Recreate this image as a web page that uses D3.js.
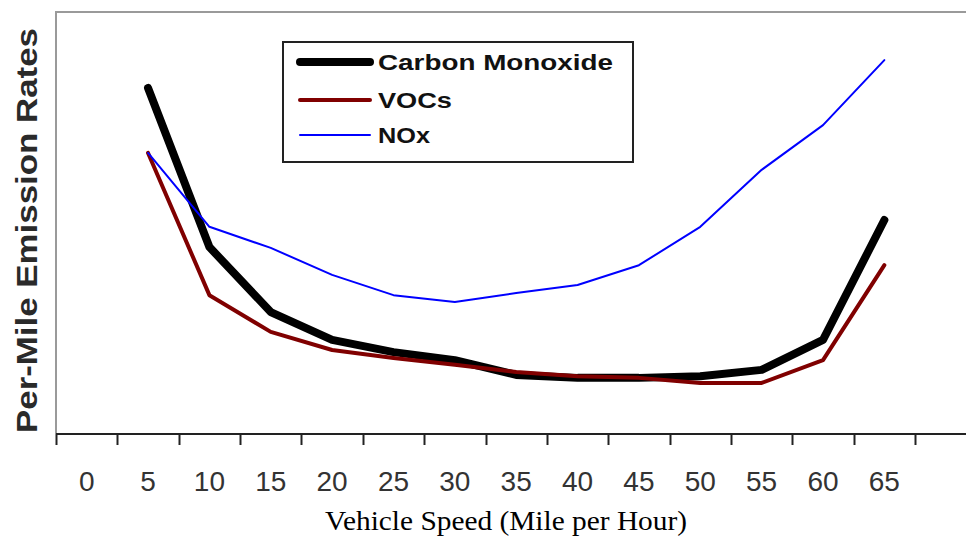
<!DOCTYPE html>
<html>
<head>
<meta charset="utf-8">
<script src="https://cdn.jsdelivr.net/npm/d3@7"></script>
<style>
    body { margin: 0; background: #fff; }
    svg { display: block; }
</style>
</head>
<body>
<svg></svg>
<script>

// speed categories (last slot is an empty band, cut off at the edge)
const speedLabels = ["0", "5", "10", "15", "20", "25", "30", "35", "40", "45", "50", "55", "60", "65", ""]
const pointSpeeds = ["5", "10", "15", "20", "25", "30", "35", "40", "45", "50", "55", "60", "65"]

// relative emission rates (no units on the original axis)
const carbonMonoxide = [82.0, 44.3, 28.9, 22.3, 19.4, 17.5, 14.0, 13.3, 13.3, 13.7, 15.2, 22.3, 50.7]
const vocs = [66.6, 32.9, 24.2, 19.9, 18.0, 16.4, 14.7, 13.7, 13.3, 12.1, 12.1, 17.5, 40.0]
const nox = [66.6, 49.1, 44.1, 37.7, 32.9, 31.3, 33.4, 35.3, 40.0, 49.1, 62.6, 73.2, 88.6]

const seriesNames = ["Carbon Monoxide", "VOCs", "NOx"]

const series = [
    { name: seriesNames[0], values: carbonMonoxide, color: "#000000", width: 8 },
    { name: seriesNames[1], values: vocs, color: "#800000", width: 4 },
    { name: seriesNames[2], values: nox, color: "#0000ff", width: 2 }
]

const width = 966
const height = 536

const plotLeft = 56
const plotTop = 12
const plotBottom = 434
const step = 61.36

const svg = d3.select("svg")
    .attr("width", width)
    .attr("height", height)

svg.append("rect")
    .attr("width", width)
    .attr("height", height)
    .attr("fill", "#fff")

const x = d3.scaleBand()
    .domain(speedLabels)
    .range([plotLeft, plotLeft + step * speedLabels.length])

const y = d3.scaleLinear()
    .domain([0, 100])
    .range([plotBottom, plotTop])

// grey frame, top and left
svg.append("path")
    .attr("d", `M${plotLeft},${plotBottom} V${plotTop} H${width}`)
    .attr("fill", "none")
    .attr("stroke", "#9a9a9a")
    .attr("stroke-width", 2)

// x axis: ticks at band edges, labels in the middle
const xAxis = svg.append("g")

xAxis.append("line")
    .attr("x1", plotLeft)
    .attr("x2", width)
    .attr("y1", plotBottom)
    .attr("y2", plotBottom)
    .attr("stroke", "#222")
    .attr("stroke-width", 2)

xAxis.selectAll("line.tick")
    .data(speedLabels)
    .enter()
    .append("line")
    .attr("class", "tick")
    .attr("x1", d => Math.round(x(d)) + 0.5)
    .attr("x2", d => Math.round(x(d)) + 0.5)
    .attr("y1", plotBottom)
    .attr("y2", plotBottom + 11)
    .attr("stroke", "#222")
    .attr("stroke-width", 2)

xAxis.selectAll("text")
    .data(speedLabels)
    .enter()
    .append("text")
    .attr("x", d => x(d) + x.bandwidth() / 2)
    .attr("y", 491)
    .attr("text-anchor", "middle")
    .style("font-family", "Arial, 'Liberation Sans', sans-serif")
    .style("font-size", "28px")
    .style("fill", "#333")
    .text(d => d)

svg.append("text")
    .attr("x", 506)
    .attr("y", 530)
    .attr("text-anchor", "middle")
    .attr("textLength", 362)
    .attr("lengthAdjust", "spacingAndGlyphs")
    .style("font-family", "'Times New Roman', 'Liberation Serif', serif")
    .style("font-size", "28px")
    .style("fill", "#000")
    .text("Vehicle Speed (Mile per Hour)")

svg.append("text")
    .attr("transform", "translate(37, 433) rotate(-90)")
    .attr("textLength", 405)
    .attr("lengthAdjust", "spacingAndGlyphs")
    .style("font-family", "Arial, 'Liberation Sans', sans-serif")
    .style("font-size", "29px")
    .style("font-weight", "bold")
    .style("fill", "#2a2a2a")
    .text("Per-Mile Emission Rates")

// lines
const lineGen = d3.line()
    .x((d, i) => x(pointSpeeds[i]) + x.bandwidth() / 2)
    .y(d => y(d))

svg.selectAll("path.series")
    .data(series)
    .enter()
    .append("path")
    .attr("class", "series")
    .attr("d", d => lineGen(d.values))
    .attr("fill", "none")
    .attr("stroke", d => d.color)
    .attr("stroke-width", d => d.width)
    .attr("stroke-linejoin", "round")
    .attr("stroke-linecap", "round")

// legend
const legend = svg.append("g")

legend.append("rect")
    .attr("x", 283)
    .attr("y", 42)
    .attr("width", 350)
    .attr("height", 120)
    .attr("fill", "#fff")
    .attr("stroke", "#222")
    .attr("stroke-width", 2)

const rowY = [62, 100, 135]
const textLengths = [235, 74, 52]

const rows = legend.selectAll("g.row")
    .data(series)
    .enter()
    .append("g")
    .attr("class", "row")

rows.append("line")
    .attr("x1", 300)
    .attr("x2", 370)
    .attr("y1", (d, i) => rowY[i])
    .attr("y2", (d, i) => rowY[i])
    .attr("stroke", d => d.color)
    .attr("stroke-width", d => d.width)
    .attr("stroke-linecap", "round")

rows.append("text")
    .attr("x", 378)
    .attr("y", (d, i) => rowY[i] + 8)
    .attr("textLength", (d, i) => textLengths[i])
    .attr("lengthAdjust", "spacingAndGlyphs")
    .style("font-family", "Arial, 'Liberation Sans', sans-serif")
    .style("font-size", "22px")
    .style("font-weight", "bold")
    .style("fill", "#111")
    .text(d => d.name)

</script>
</body>
</html>
